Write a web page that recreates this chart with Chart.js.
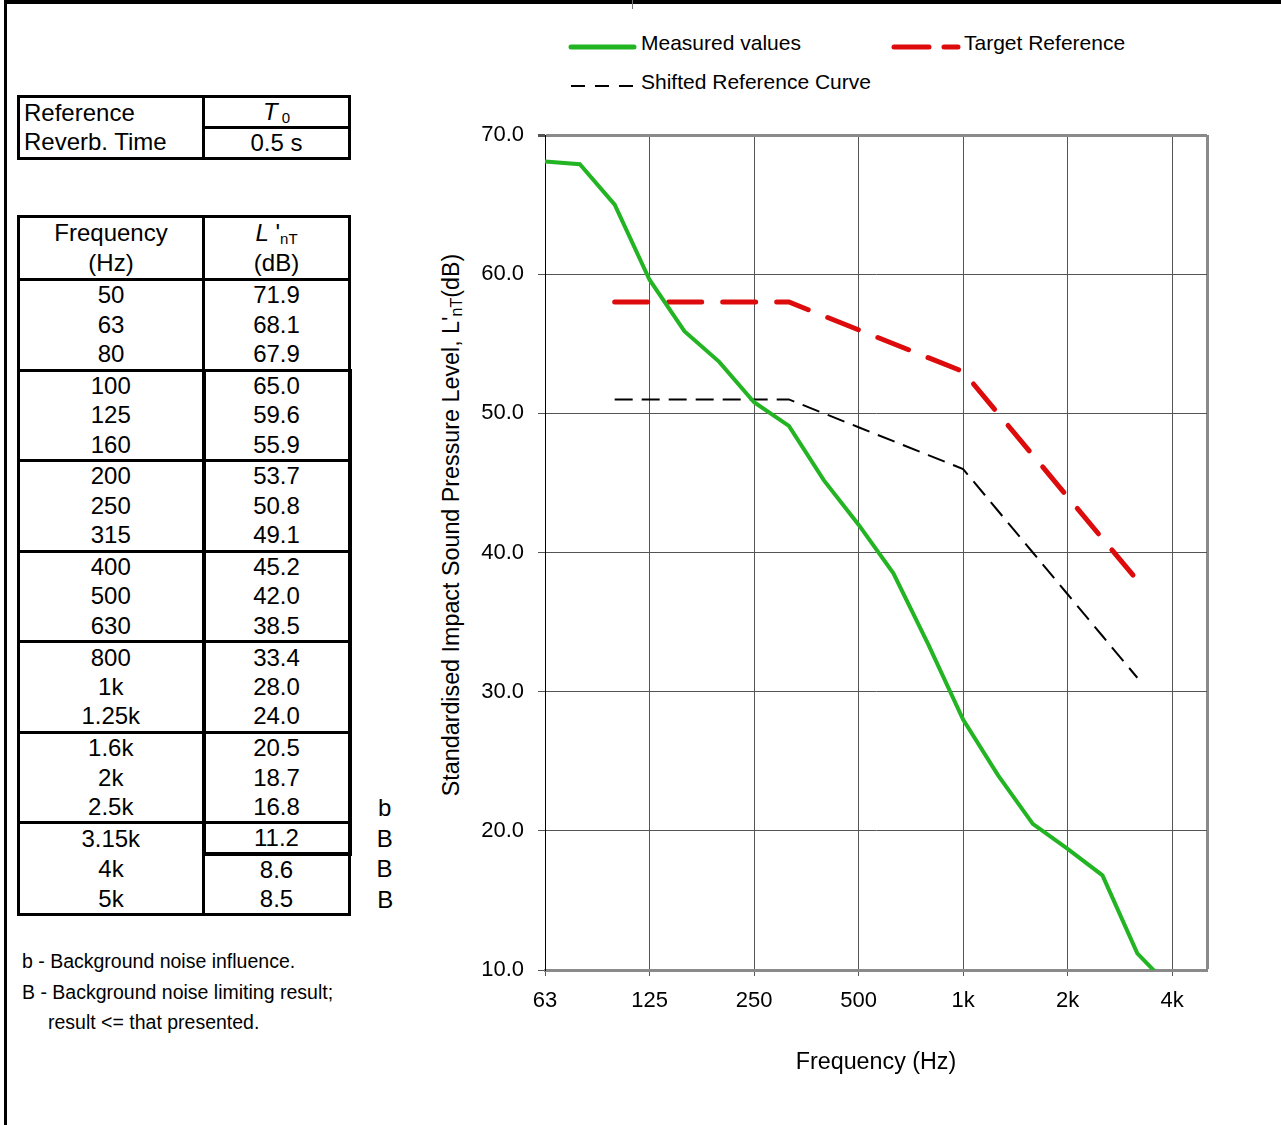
<!DOCTYPE html>
<html>
<head>
<meta charset="utf-8">
<style>
  body { margin: 0; background: #fff; font-family: 'Liberation Sans', Arial, sans-serif; color: #000; }
  .page { position: relative; width: 1281px; height: 1125px; overflow: hidden; }
  .frame-top { position: absolute; left: 4px; top: 0; width: 1277px; height: 4px; background: #000; }
  .frame-left { position: absolute; left: 4px; top: 0; width: 3px; height: 1125px; background: #000; }
  .frame-tick { position: absolute; left: 632px; top: 0; width: 1px; height: 9px; background: #777; }

  table { border-collapse: collapse; position: absolute; left: 17px; table-layout: fixed; }
  td { padding: 0; text-align: center; font-size: 24px; line-height: 28px; white-space: nowrap; }
  td.left { text-align: left; padding-left: 4px; }
  sub { font-size: 15px; vertical-align: -3px; line-height: 0; }

  .legend-item { position: absolute; font-size: 21px; line-height: 24px; white-space: nowrap; }
  .legend-line { position: absolute; }
  .ytitle { position: absolute; left: 451px; top: 525px; transform: translate(-50%, -50%) rotate(-90deg);
            font-size: 23.3px; white-space: nowrap; }
  .ytitle sub { font-size: 16px; }
  .note { position: absolute; font-size: 19.5px; line-height: 24px; white-space: nowrap; }
  #chartBox { position: absolute; left: 430px; top: 100px; width: 820px; height: 1010px; }
</style>
</head>
<body>
<div class="page">
  <div class="frame-top"></div>
  <div class="frame-left"></div>
  <div class="frame-tick"></div>

  <table id="refTable" style="top:95px">
    <colgroup><col style="width:185px"><col style="width:146px"></colgroup>
    <tr style="height:30px">
      <td class="left" style="border:3px solid #000;border-bottom:none;">Reference</td>
      <td style="border:3px solid #000;"><i>T</i><sub>&nbsp;0</sub></td>
    </tr>
    <tr style="height:30px">
      <td class="left" style="border:3px solid #000;border-top:none;">Reverb. Time</td>
      <td style="border:3px solid #000;">0.5 s</td>
    </tr>
  </table>

  <table id="dataTable" style="top:215px">
    <colgroup><col style="width:185px"><col style="width:146px"><col style="width:70px"></colgroup>
    <tbody id="dataBody">
      <tr style="height:61px">
        <td style="border:3px solid #000;line-height:30px;">Frequency<br>(Hz)</td>
        <td style="border:3px solid #000;line-height:30px;"><i>L</i> '<sub>nT</sub><br>(dB)</td>
        <td></td>
      </tr>
    </tbody>
  </table>

  <div class="legend-line" style="left:566px;top:38px;">
    <svg width="74" height="10"><line x1="5" y1="5" x2="68" y2="5" stroke="#22b422" stroke-width="5" stroke-linecap="round"/></svg>
  </div>
  <div class="legend-item" style="left:641px;top:31px;">Measured values</div>
  <div class="legend-line" style="left:889px;top:38px;">
    <svg width="74" height="10"><line x1="5" y1="5" x2="69" y2="5" stroke="#dd0b0b" stroke-width="5" stroke-linecap="round" stroke-dasharray="35 15"/></svg>
  </div>
  <div class="legend-item" style="left:964px;top:31px;">Target Reference</div>
  <div class="legend-line" style="left:566px;top:77px;">
    <svg width="74" height="10"><line x1="5" y1="5" x2="68" y2="5" stroke="#000" stroke-width="2" stroke-dasharray="14 10"/></svg>
  </div>
  <div class="legend-item" style="left:641px;top:70px;">Shifted Reference Curve</div>

  <div class="ytitle">Standardised Impact Sound Pressure Level, L'<sub>nT</sub>(dB)</div>

  <div id="chartBox"><canvas id="myChart"></canvas></div>

  <div class="note" style="left:22px;top:949px;">b - Background noise influence.</div>
  <div class="note" style="left:22px;top:980px;">B - Background noise limiting result;</div>
  <div class="note" style="left:48px;top:1010px;">result &lt;= that presented.</div>
</div>

<script src="https://cdn.jsdelivr.net/npm/chart.js"></script>
<script>
  // one-third octave bands, as listed in the table
  const freqs = ['50', '63', '80', '100', '125', '160', '200', '250', '315', '400', '500', '630',
                 '800', '1k', '1.25k', '1.6k', '2k', '2.5k', '3.15k', '4k', '5k'];
  const measured = [71.9, 68.1, 67.9, 65.0, 59.6, 55.9, 53.7, 50.8, 49.1, 45.2, 42.0, 38.5,
                    33.4, 28.0, 24.0, 20.5, 18.7, 16.8, 11.2, 8.6, 8.5];
  const flags = ['', '', '', '', '', '', '', '', '', '', '', '', '', '', '', '', '', 'b', 'B', 'B', 'B'];
  const targetRef = [null, null, null, 58, 58, 58, 58, 58, 58, 57, 56, 55,
                     54, 53, 50, 47, 44, 41, 38, null, null];
  const shiftedRef = [null, null, null, 51, 51, 51, 51, 51, 51, 50, 49, 48,
                      47, 46, 43, 40, 37, 34, 31, null, null];
  const octaveLabels = ['63', '125', '250', '500', '1k', '2k', '4k'];
  const yTicks = [10, 20, 30, 40, 50, 60, 70];

  // table rows
  const body = document.getElementById('dataBody');
  const groupEnds = [2, 5, 8, 11, 14, 17];
  freqs.forEach((f, i) => {
    const tr = document.createElement('tr');
    tr.style.height = '30.2px';
    const bottom = (groupEnds.includes(i) || i === freqs.length - 1) ? '3px solid #000' : 'none';
    const boxed = i >= 3 && i <= 18;
    const c1 = document.createElement('td');
    c1.textContent = f;
    c1.style.borderLeft = '3px solid #000';
    c1.style.borderRight = '3px solid #000';
    c1.style.borderBottom = bottom;
    const c2 = document.createElement('td');
    c2.textContent = measured[i].toFixed(1);
    c2.style.borderLeft = boxed ? '4px solid #000' : '3px solid #000';
    c2.style.borderRight = boxed ? '4px solid #000' : '3px solid #000';
    c2.style.borderBottom = (i === 18) ? '4px solid #000' : bottom;
    const c3 = document.createElement('td');
    c3.textContent = flags[i];
    tr.append(c1, c2, c3);
    body.appendChild(tr);
  });

  const cats = freqs.slice(1);
  const isOctave = i => octaveLabels.includes(cats[i]);

  Chart.defaults.font.family = "'Liberation Sans', Arial, sans-serif";
  Chart.defaults.font.size = 22;
  Chart.defaults.color = '#000';

  new Chart(document.getElementById('myChart'), {
    type: 'line',
    data: {
      labels: cats,
      datasets: [
        {
          label: 'Measured values',
          data: measured.slice(1),
          borderColor: '#22b422',
          borderWidth: 4,
          pointRadius: 0,
        },
        {
          label: 'Target Reference',
          data: targetRef.slice(1),
          borderColor: '#dd0b0b',
          borderWidth: 5,
          borderDash: [33, 21],
          borderCapStyle: 'round',
          pointRadius: 0,
        },
        {
          label: 'Shifted Reference Curve',
          data: shiftedRef.slice(1),
          borderColor: '#000',
          borderWidth: 2,
          borderDash: [18, 9],
          pointRadius: 0,
        }
      ]
    },
    options: {
      responsive: true,
      maintainAspectRatio: false,
      animation: false,
      layout: { padding: { top: 35, right: 43, left: 0, bottom: 0 } },
      plugins: { legend: { display: false }, tooltip: { enabled: false } },
      scales: {
        x: {
          offset: false,
          afterFit: (scale) => { scale.height = 140; },
          border: { color: '#8a8a8a', width: 3 },
          grid: {
            color: (ctx) => ctx.index === cats.length - 1 ? '#8a8a8a' : (isOctave(ctx.index) ? '#555' : 'rgba(0,0,0,0)'),
            lineWidth: (ctx) => ctx.index === cats.length - 1 ? 3 : 1,
            tickColor: (ctx) => isOctave(ctx.index) ? '#555' : 'rgba(0,0,0,0)',
            tickLength: 6,
          },
          ticks: {
            autoSkip: false,
            maxRotation: 0,
            padding: 12,
            callback: function (value, index) { return isOctave(index) ? cats[index] : ''; }
          },
          title: {
            display: true,
            text: 'Frequency (Hz)',
            font: { size: 23.3 },
            padding: { top: 0, bottom: 33 },
          }
        },
        y: {
          min: Math.min(...yTicks),
          max: Math.max(...yTicks),
          afterFit: (scale) => { scale.width = 115; },
          border: { color: '#000', width: 1 },
          grid: {
            color: (ctx) => ctx.tick.value === 70 ? '#8a8a8a' : '#555',
            lineWidth: (ctx) => ctx.tick.value === 70 ? 3 : 1,
            tickColor: '#555',
            tickLength: 7,
          },
          ticks: {
            stepSize: 10,
            padding: 14,
            callback: (value) => value.toFixed(1)
          }
        }
      }
    }
  });
</script>
</body>
</html>
